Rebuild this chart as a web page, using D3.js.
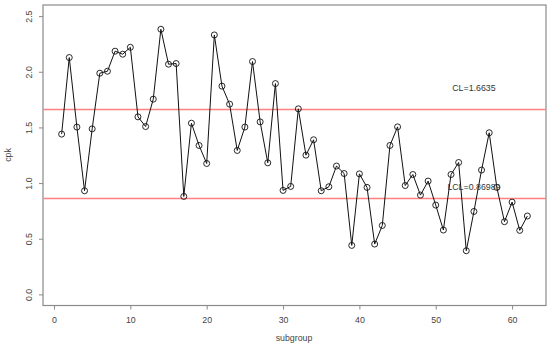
<!DOCTYPE html>
<html>
<head>
<meta charset="utf-8">
<script src="https://cdn.jsdelivr.net/npm/d3@7"></script>
<style>
  html, body { margin: 0; padding: 0; background: #fff; }
  svg { display: block; font-family: "Liberation Sans", Arial, sans-serif; }
</style>
</head>
<body>
<svg id="chart" width="550" height="345"></svg>
<script>
const subgroups = d3.range(1, 63);
const cpk = [1.44, 2.128, 1.503, 0.931, 1.487, 1.987, 2.005, 2.185, 2.158, 2.22,
  1.595, 1.508, 1.754, 2.382, 2.068, 2.074, 0.88, 1.538, 1.338, 1.176,
  2.331, 1.871, 1.709, 1.293, 1.503, 2.092, 1.55, 1.182, 1.894, 0.934,
  0.97, 1.667, 1.251, 1.389, 0.931, 0.967, 1.153, 1.086, 0.44, 1.083,
  0.961, 0.452, 0.619, 1.338, 1.505, 0.978, 1.077, 0.892, 1.018, 0.802,
  0.578, 1.077, 1.185, 0.392, 0.745, 1.117, 1.452, 0.961, 0.653, 0.829,
  0.575, 0.704];
const xTicks = [0, 10, 20, 30, 40, 50, 60];
const yTicks = [0, 0.5, 1, 1.5, 2, 2.5];
const CL = 1.6635;
const LCL = 0.86989;
const clLabel = "CL=1.6635";
const lclLabel = "LCL=0.86989";
const labelX = 55;

const svg = d3.select("#chart");
const box = { left: 43, right: 546, top: 5, bottom: 305.5 };
const x = d3.scaleLinear().domain([-1.44, 64.44]).range([box.left, box.right]);
const y = d3.scaleLinear().domain([-0.1, 2.6]).range([box.bottom, box.top]);

const axisColor = "#8a8a8a";
const textColor = "#444";

// x axis
const xAxis = svg.append("g").attr("transform", `translate(0,${box.bottom})`)
  .call(d3.axisBottom(x).tickValues(xTicks).tickSize(4).tickPadding(7).tickFormat(d3.format("d")));
xAxis.select(".domain").remove();
xAxis.selectAll("line").attr("stroke", axisColor);
xAxis.selectAll("text").attr("fill", textColor).style("font-size", "8.8px").style("font-family", "Liberation Sans, Arial, sans-serif");

// y axis
const yAxis = svg.append("g").attr("transform", `translate(${box.left},0)`)
  .call(d3.axisLeft(y).tickValues(yTicks).tickSize(4).tickFormat(d3.format(".1f")));
yAxis.select(".domain").remove();
yAxis.selectAll("line").attr("stroke", axisColor);
yAxis.selectAll("text")
  .attr("fill", textColor)
  .style("font-size", "8.8px").style("font-family", "Liberation Sans, Arial, sans-serif")
  .attr("dy", null)
  .attr("text-anchor", "middle")
  .attr("transform", `translate(${29 - box.left + 3},0) rotate(-90)`)
  .attr("x", 0).attr("y", 0);

// box
svg.append("rect").attr("x", box.left).attr("y", box.top)
  .attr("width", box.right - box.left).attr("height", box.bottom - box.top)
  .attr("fill", "none").attr("stroke", axisColor).attr("stroke-width", 1.2);

// control lines
[CL, LCL].forEach(v => {
  svg.append("line").attr("x1", box.left).attr("x2", box.right)
    .attr("y1", Math.round(y(v)) + 0.5).attr("y2", Math.round(y(v)) + 0.5)
    .attr("stroke", "#ff8080").attr("stroke-width", 1.3);
});

// series line
const pts = subgroups.map((s, i) => [s, cpk[i]]);
svg.append("path").datum(pts)
  .attr("fill", "none").attr("stroke", "#111").attr("stroke-width", 1)
  .attr("d", d3.line().x(d => x(d[0])).y(d => y(d[1])));

// markers
svg.selectAll("circle.pt").data(pts).enter().append("circle")
  .attr("class", "pt")
  .attr("cx", d => x(d[0])).attr("cy", d => y(d[1])).attr("r", 3)
  .attr("fill", "none").attr("stroke", "#111").attr("stroke-width", 0.9);

// labels
svg.append("text").attr("x", x(labelX)).attr("y", y(1.83)).attr("text-anchor", "middle")
  .attr("fill", "#333").style("font-size", "8.8px").text(clLabel);
svg.append("text").attr("x", x(labelX)).attr("y", y(0.935)).attr("text-anchor", "middle")
  .attr("fill", "#333").style("font-size", "8.8px").text(lclLabel);

// axis titles
svg.append("text").attr("x", 294).attr("y", 341).attr("text-anchor", "middle")
  .attr("fill", textColor).style("font-size", "8.8px").text("subgroup");
svg.append("text").attr("transform", `translate(11,155) rotate(-90)`).attr("text-anchor", "middle")
  .attr("fill", textColor).style("font-size", "8.8px").text("cpk");
</script>
</body>
</html>
